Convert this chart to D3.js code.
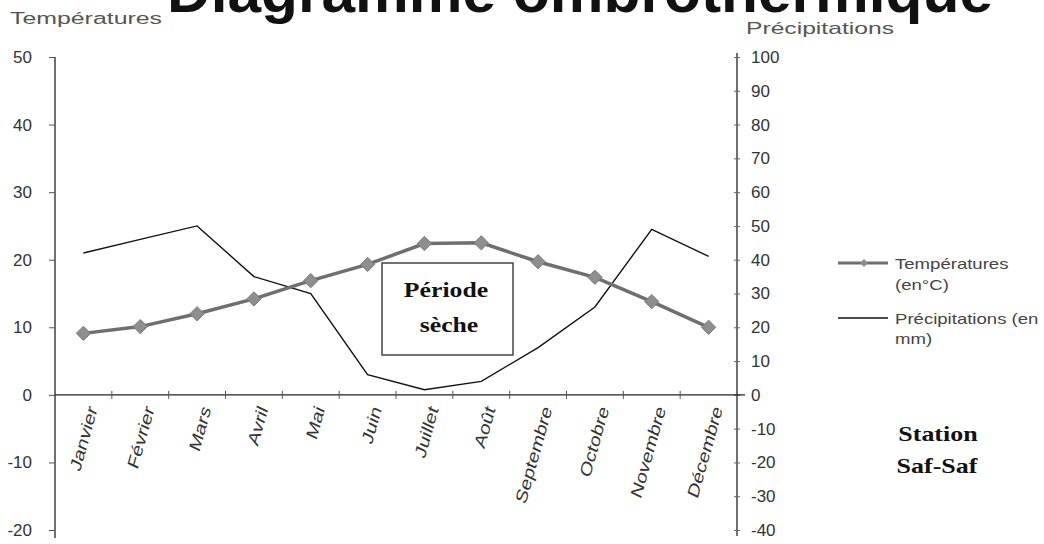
<!DOCTYPE html>
<html>
<head>
<meta charset="utf-8">
<script src="https://cdn.jsdelivr.net/npm/d3@7"></script>
<style>
  html, body { margin: 0; padding: 0; background: #fff; }
  svg { display: block; }
</style>
</head>
<body>
<svg id="chart" width="1044" height="544"></svg>
<script>
// Monthly climate data, Saf-Saf station
const months = ["Janvier", "Février", "Mars", "Avril", "Mai", "Juin", "Juillet",
                "Août", "Septembre", "Octobre", "Novembre", "Décembre"];
const temperatures = [9.1, 10.1, 12.0, 14.2, 16.9, 19.3, 22.4, 22.5, 19.7, 17.4, 13.8, 10.0];
const precipitations = [42, 46, 50, 35, 30, 6, 1.5, 4, 14, 26, 49, 41];
const tempTicks = [50, 40, 30, 20, 10, 0, -10, -20];
const precTicks = [100, 90, 80, 70, 60, 50, 40, 30, 20, 10, 0, -10, -20, -30, -40];

const svg = d3.select("#chart");
const sans = "'Liberation Sans', Arial, sans-serif";
const serif = "'Liberation Serif', 'Times New Roman', serif";

const plot = { left: 55, right: 737, top: 57, bottom: 530 };

const x = d3.scaleBand().domain(months).range([plot.left, plot.right]).padding(0);
const yT = d3.scaleLinear().domain([-20, 50]).range([plot.bottom, plot.top]);
const yP = d3.scaleLinear().domain([-40, 100]).range([plot.bottom, plot.top]);
const cx = m => x(m) + x.bandwidth() / 2;
const plain = d => String(d);   // hyphen-minus for negatives

// Widen a text horizontally by factor k (wide lettering of the chart)
function widen(sel, k) {
  sel.each(function () {
    const w = this.getComputedTextLength();
    d3.select(this).attr("textLength", w * k).attr("lengthAdjust", "spacingAndGlyphs");
  });
  return sel;
}

// Title (partly above the frame)
svg.append("text")
  .attr("x", 580).attr("y", 12)
  .attr("text-anchor", "middle")
  .attr("font-family", sans).attr("font-weight", "bold")
  .attr("font-size", 60).attr("fill", "#111")
  .attr("textLength", 826).attr("lengthAdjust", "spacingAndGlyphs")
  .text("Diagramme ombrothermique");

// Axis titles
svg.append("text").attr("x", 10).attr("y", 24)
  .attr("font-family", sans).attr("font-size", 16).attr("fill", "#555")
  .attr("textLength", 152).attr("lengthAdjust", "spacingAndGlyphs")
  .text("Températures");
svg.append("text").attr("x", 746).attr("y", 34)
  .attr("font-family", sans).attr("font-size", 16.5).attr("fill", "#555")
  .attr("textLength", 148).attr("lengthAdjust", "spacingAndGlyphs")
  .text("Précipitations");

// Left axis (temperatures)
const axL = svg.append("g").attr("transform", `translate(${plot.left},0)`)
  .call(d3.axisLeft(yT).tickValues(tempTicks).tickFormat(plain)
    .tickSize(6).tickPadding(17).tickSizeOuter(0));
axL.select(".domain").attr("d", `M0,${yT(50)}V${plot.bottom + 8}`).attr("stroke", "#222").attr("stroke-width", 1.3);
axL.selectAll(".tick line").attr("stroke", "#555");
axL.selectAll(".tick text").attr("font-family", sans).attr("font-size", 17).attr("fill", "#333");

// Right axis (precipitations)
const axR = svg.append("g").attr("transform", `translate(${plot.right},0)`)
  .call(d3.axisRight(yP).tickValues(precTicks).tickFormat(plain)
    .tickSize(3).tickPadding(11).tickSizeOuter(0));
axR.select(".domain").attr("d", `M0,${yP(100) - 4}V${plot.bottom + 6}`).attr("stroke", "#222").attr("stroke-width", 1.3);
axR.selectAll(".tick line").attr("x1", -3).attr("stroke", "#666");
axR.selectAll(".tick text").attr("font-family", sans).attr("font-size", 17).attr("fill", "#333");

// Category axis along the zero line
const axB = svg.append("g").attr("transform", `translate(0,${yT(0)})`)
  .call(d3.axisBottom(x).tickSize(0).tickSizeOuter(0));
axB.select(".domain").attr("d", `M${plot.left},0H${plot.right + 8}`).attr("stroke", "#222").attr("stroke-width", 1.3);
axB.selectAll(".tick text")
  .attr("font-family", sans).attr("font-size", 16).attr("fill", "#333")
  .attr("text-anchor", "end")
  .attr("dy", "0.35em")
  .attr("transform", "translate(9,12) scale(1,1.3) rotate(-70)")
  .attr("y", 0).attr("x", 0);
// Tick marks between months
axB.selectAll(".sep").data(months.slice(1)).enter().append("line")
  .attr("class", "sep")
  .attr("x1", d => x(d)).attr("x2", d => x(d))
  .attr("y1", -4).attr("y2", 4)
  .attr("stroke", "#555");

// Precipitation line
const lineP = d3.line().x((d, i) => cx(months[i])).y(d => yP(d));
svg.append("path").datum(precipitations)
  .attr("d", lineP).attr("fill", "none")
  .attr("stroke", "#111").attr("stroke-width", 1.4);

// Temperature line with diamond markers
const lineT = d3.line().x((d, i) => cx(months[i])).y(d => yT(d));
svg.append("path").datum(temperatures)
  .attr("d", lineT).attr("fill", "none")
  .attr("stroke", "#6f6f6f").attr("stroke-width", 3.5);
const diamond = d3.symbol().type(d3.symbolDiamond2).size(130);
svg.selectAll(".pt").data(temperatures).enter().append("path")
  .attr("class", "pt")
  .attr("transform", (d, i) => `translate(${cx(months[i])},${yT(d)})`)
  .attr("d", diamond)
  .attr("fill", "#8e8e8e").attr("stroke", "#7a7a7a").attr("stroke-width", 1);

// Dry period annotation
svg.append("rect").attr("x", 382).attr("y", 263).attr("width", 131).attr("height", 92)
  .attr("fill", "#fff").attr("stroke", "#444").attr("stroke-width", 1.5);
const dry = svg.append("g").attr("font-family", serif).attr("font-weight", "bold")
  .attr("font-size", 22).attr("fill", "#111").attr("text-anchor", "middle");
widen(dry.append("text").attr("x", 446).attr("y", 297).text("Période"), 1.17);
widen(dry.append("text").attr("x", 449).attr("y", 332).text("sèche"), 1.17);

// Legend
const lg = svg.append("g").attr("font-family", sans).attr("font-size", 14.5).attr("fill", "#444");
lg.append("line").attr("x1", 838).attr("x2", 888).attr("y1", 263).attr("y2", 263)
  .attr("stroke", "#6f6f6f").attr("stroke-width", 3);
lg.append("path").attr("transform", "translate(864,263)")
  .attr("d", d3.symbol().type(d3.symbolDiamond2).size(40))
  .attr("fill", "#8e8e8e");
widen(lg.append("text").attr("x", 895).attr("y", 269).text("Températures"), 1.28);
widen(lg.append("text").attr("x", 895).attr("y", 290).text("(en°C)"), 1.28);
lg.append("line").attr("x1", 838).attr("x2", 888).attr("y1", 318).attr("y2", 318)
  .attr("stroke", "#111").attr("stroke-width", 1.3);
widen(lg.append("text").attr("x", 895).attr("y", 324).text("Précipitations (en"), 1.28);
widen(lg.append("text").attr("x", 895).attr("y", 344).text("mm)"), 1.28);

// Station name
const st = svg.append("g").attr("font-family", serif).attr("font-weight", "bold")
  .attr("font-size", 22).attr("fill", "#111").attr("text-anchor", "middle");
widen(st.append("text").attr("x", 938).attr("y", 441).text("Station"), 1.18);
widen(st.append("text").attr("x", 937).attr("y", 473).text("Saf-Saf"), 1.18);
</script>
</body>
</html>
